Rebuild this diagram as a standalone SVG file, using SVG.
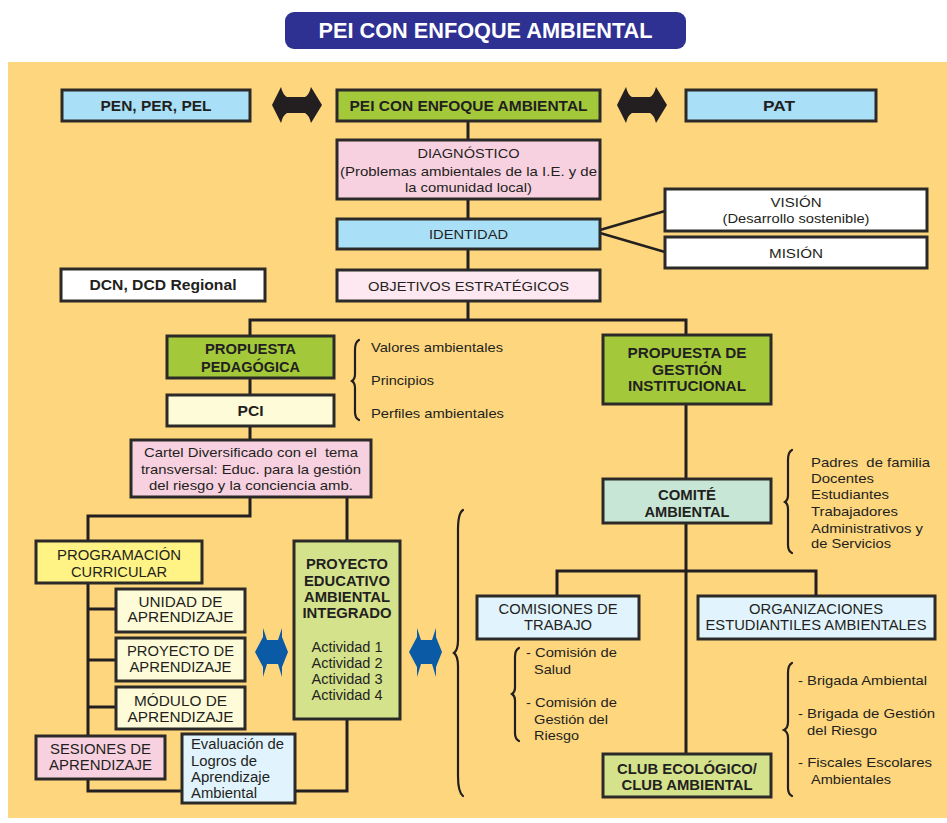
<svg xmlns="http://www.w3.org/2000/svg" width="947" height="823" viewBox="0 0 947 823">
<style>
text{font-family:"Liberation Sans",Arial,sans-serif;fill:#231f20}
.b{font-weight:bold}
.c{text-anchor:middle}
.n{font-size:14px}
.m{font-size:13.5px}
.pre{white-space:pre}
.box{stroke:#2b2a29;stroke-width:3}
.con{fill:none;stroke:#231f20;stroke-width:3}
.thin{stroke-width:2.4}
.br{fill:none;stroke:#231f20;stroke-width:2.2;stroke-linecap:round}
</style>
<rect x="0" y="0" width="947" height="823" fill="#ffffff"/>
<rect x="8" y="62" width="939" height="756" fill="#fed67e"/>
<g id="title">
<rect x="285" y="12" width="401" height="37" rx="9" fill="#2e3192"/>
<text x="485.5" y="38" class="b c" style="font-size:22px;fill:#ffffff" textLength="334" lengthAdjust="spacingAndGlyphs">PEI CON ENFOQUE AMBIENTAL</text>
</g>
<g id="connectors">
<path class="con" d="M468,121V140M468,199V219M468,249V270"/>
<path class="con thin" d="M600,230L665,211M600,233L665,252"/>
<path class="con" d="M468,301V320M250,336V320H686V335"/>
<path class="con" d="M250,378V395M250,426V440"/>
<path class="con" d="M250,497V516H88V541M347,497V541"/>
<path class="con" d="M88,583V736M88,609H116M88,660H116M88,707H116"/>
<path class="con" d="M88,779V791H182M295,791H347V719"/>
<path class="con" d="M686,404V479M686,523V754M557,596V571H816V596"/>
</g>
<g id="arrows">
<path fill="#231f20" d="M272,105L281,87Q283,95 287,97L305,97Q309,95 311,87L322,105L311,123Q309,115 305,113L287,113Q283,115 281,123Z"/>
<path fill="#231f20" d="M617,105L626,87Q628,95 632,97L650,97Q654,95 656,87L667,105L656,123Q654,115 650,113L632,113Q628,115 626,123Z"/>
<path fill="#0b5aa6" d="M255,652L263,637L263,628L267,640L278,640L282,628L282,637L288,652L282,667L282,677L278,664L267,664L263,677L263,667Z"/>
<path fill="#0b5aa6" d="M409,652L417,637L417,628L421,640L432,640L436,628L436,637L442,652L436,667L436,677L432,664L421,664L417,677L417,667Z"/>
</g>
<g id="braces">
<path class="br" d="M463,510Q458,513 458,530L458,640Q458,650 454,653Q458,656 458,666L458,776Q458,792 463,796"/>
<path class="br" d="M359,340Q355,342 355,350L355,374Q355,379 352,381Q355,383 355,388L355,412Q355,418 359,420"/>
<path class="br" d="M792,450Q788,452 788,460L788,495Q788,500 785,502Q788,504 788,509L788,545Q788,551 792,553"/>
<path class="br" d="M519,648Q515,650 515,657L515,688Q515,692 512,694Q515,696 515,700L515,733Q515,739 519,741"/>
<path class="br" d="M792,663Q788,665 788,673L788,722Q788,728 784,730Q788,732 788,738L788,788Q788,794 792,796"/>
</g>
<g id="pen"><rect class="box" x="62" y="90" width="188" height="31" fill="#a9dff7"/><text x="156" y="110.5" class="b c" style="font-size:15px" textLength="111" lengthAdjust="spacingAndGlyphs">PEN, PER, PEL</text></g>
<g id="pei"><rect class="box" x="337" y="90" width="263" height="31" fill="#a3c93a"/><text x="468.5" y="110.5" class="b c" style="font-size:15px" textLength="238" lengthAdjust="spacingAndGlyphs">PEI CON ENFOQUE AMBIENTAL</text></g>
<g id="pat"><rect class="box" x="686" y="90" width="190" height="31" fill="#a9dff7"/><text x="779" y="110.5" class="b c" style="font-size:15px" textLength="32" lengthAdjust="spacingAndGlyphs">PAT</text></g>
<g id="diagnostico"><rect class="box" x="337" y="140" width="263" height="59" fill="#f8d1e1"/>
<text x="468.5" y="158" class="m c" textLength="102" lengthAdjust="spacingAndGlyphs">DIAGNÓSTICO</text>
<text x="468.5" y="176" class="m c" textLength="257" lengthAdjust="spacingAndGlyphs">(Problemas ambientales de la I.E. y de</text>
<text x="468.5" y="192" class="m c" textLength="127" lengthAdjust="spacingAndGlyphs">la comunidad local)</text></g>
<g id="identidad"><rect class="box" x="337" y="219" width="263" height="30" fill="#a9dff7"/><text x="468.5" y="239" class="m c" textLength="79" lengthAdjust="spacingAndGlyphs">IDENTIDAD</text></g>
<g id="vision"><rect class="box" x="665" y="189" width="262" height="42" fill="#ffffff"/>
<text x="796" y="207" class="m c" textLength="51" lengthAdjust="spacingAndGlyphs">VISIÓN</text>
<text x="796" y="223" class="m c" textLength="147" lengthAdjust="spacingAndGlyphs">(Desarrollo sostenible)</text></g>
<g id="mision"><rect class="box" x="665" y="237" width="262" height="31" fill="#ffffff"/><text x="796" y="258" class="m c" textLength="54" lengthAdjust="spacingAndGlyphs">MISIÓN</text></g>
<g id="objetivos"><rect class="box" x="337" y="270" width="263" height="31" fill="#fde7f0"/><text x="468.5" y="291" class="m c" textLength="201" lengthAdjust="spacingAndGlyphs">OBJETIVOS ESTRATÉGICOS</text></g>
<g id="dcn"><rect class="box" x="61" y="269" width="204" height="32" fill="#ffffff"/><text x="163" y="289.5" class="b c" style="font-size:15px" textLength="147" lengthAdjust="spacingAndGlyphs">DCN, DCD Regional</text></g>
<g id="propuesta-pedagogica"><rect class="box" x="167" y="336" width="167" height="42" fill="#a3c93a"/>
<text x="250.5" y="354" class="b n c" textLength="91" lengthAdjust="spacingAndGlyphs">PROPUESTA</text>
<text x="250.5" y="372" class="b n c" textLength="99" lengthAdjust="spacingAndGlyphs">PEDAGÓGICA</text></g>
<g id="pedagogica-items">
<text x="371" y="352" class="m" textLength="132" lengthAdjust="spacingAndGlyphs">Valores ambientales</text>
<text x="371" y="385" class="m" textLength="63" lengthAdjust="spacingAndGlyphs">Principios</text>
<text x="371" y="418" class="m" textLength="133" lengthAdjust="spacingAndGlyphs">Perfiles ambientales</text></g>
<g id="pci"><rect class="box" x="167" y="395" width="167" height="31" fill="#fefbd8"/><text x="250.5" y="416" class="b n c" textLength="26" lengthAdjust="spacingAndGlyphs">PCI</text></g>
<g id="cartel"><rect class="box" x="131" y="440" width="240" height="57" fill="#f8d1e1"/>
<text x="251" y="457" class="m c pre" xml:space="preserve" textLength="214" lengthAdjust="spacingAndGlyphs">Cartel Diversificado con el  tema</text>
<text x="251" y="474" class="m c" textLength="220" lengthAdjust="spacingAndGlyphs">transversal: Educ. para la gestión</text>
<text x="251" y="490" class="m c" textLength="204" lengthAdjust="spacingAndGlyphs">del riesgo y la conciencia amb.</text></g>
<g id="programacion"><rect class="box" x="36" y="541" width="166" height="42" fill="#fff385"/>
<text x="119" y="560" class="n c" textLength="124" lengthAdjust="spacingAndGlyphs">PROGRAMACIÓN</text>
<text x="119" y="577" class="n c" textLength="96" lengthAdjust="spacingAndGlyphs">CURRICULAR</text></g>
<g id="unidad"><rect class="box" x="116" y="589" width="129" height="43" fill="#fefbd8"/>
<text x="180.5" y="607" class="n c" textLength="84" lengthAdjust="spacingAndGlyphs">UNIDAD DE</text>
<text x="180.5" y="622" class="n c" textLength="106" lengthAdjust="spacingAndGlyphs">APRENDIZAJE</text></g>
<g id="proyecto-aprendizaje"><rect class="box" x="116" y="638" width="129" height="43" fill="#fefbd8"/>
<text x="180.5" y="656" class="n c" textLength="107" lengthAdjust="spacingAndGlyphs">PROYECTO DE</text>
<text x="180.5" y="672" class="n c" textLength="102" lengthAdjust="spacingAndGlyphs">APRENDIZAJE</text></g>
<g id="modulo"><rect class="box" x="116" y="687" width="129" height="42" fill="#fefbd8"/>
<text x="180.5" y="706" class="n c" textLength="93" lengthAdjust="spacingAndGlyphs">MÓDULO DE</text>
<text x="180.5" y="722" class="n c" textLength="106" lengthAdjust="spacingAndGlyphs">APRENDIZAJE</text></g>
<g id="sesiones"><rect class="box" x="36" y="736" width="129" height="43" fill="#f8d1e1"/>
<text x="100.5" y="754" class="n c" textLength="101" lengthAdjust="spacingAndGlyphs">SESIONES DE</text>
<text x="100.5" y="770" class="n c" textLength="103" lengthAdjust="spacingAndGlyphs">APRENDIZAJE</text></g>
<g id="evaluacion"><rect class="box" x="182" y="734" width="113" height="69" fill="#e1f3fc"/>
<text x="191" y="749" class="n" textLength="93" lengthAdjust="spacingAndGlyphs">Evaluación de</text>
<text x="191" y="766" class="n" textLength="66" lengthAdjust="spacingAndGlyphs">Logros de</text>
<text x="191" y="782" class="n" textLength="79" lengthAdjust="spacingAndGlyphs">Aprendizaje</text>
<text x="191" y="798" class="n" textLength="66" lengthAdjust="spacingAndGlyphs">Ambiental</text></g>
<g id="proyecto-educativo"><rect class="box" x="294" y="541" width="106" height="178" fill="#d4e28c"/>
<text x="347" y="569" class="b n c" textLength="82" lengthAdjust="spacingAndGlyphs">PROYECTO</text>
<text x="347" y="586" class="b n c" textLength="86" lengthAdjust="spacingAndGlyphs">EDUCATIVO</text>
<text x="347" y="602" class="b n c" textLength="86" lengthAdjust="spacingAndGlyphs">AMBIENTAL</text>
<text x="347" y="618" class="b n c" textLength="89" lengthAdjust="spacingAndGlyphs">INTEGRADO</text>
<text x="347" y="652" class="n c" textLength="71" lengthAdjust="spacingAndGlyphs">Actividad 1</text>
<text x="347" y="668" class="n c" textLength="71" lengthAdjust="spacingAndGlyphs">Actividad 2</text>
<text x="347" y="684" class="n c" textLength="71" lengthAdjust="spacingAndGlyphs">Actividad 3</text>
<text x="347" y="700" class="n c" textLength="71" lengthAdjust="spacingAndGlyphs">Actividad 4</text></g>
<g id="propuesta-gestion"><rect class="box" x="603" y="335" width="168" height="69" fill="#a3c93a"/>
<text x="687" y="358" class="b n c" textLength="119" lengthAdjust="spacingAndGlyphs">PROPUESTA DE</text>
<text x="687" y="375" class="b n c" textLength="70" lengthAdjust="spacingAndGlyphs">GESTIÓN</text>
<text x="687" y="391" class="b n c" textLength="118" lengthAdjust="spacingAndGlyphs">INSTITUCIONAL</text></g>
<g id="comite"><rect class="box" x="603" y="479" width="168" height="44" fill="#c7e6d5"/>
<text x="687" y="500" class="b n c" textLength="58" lengthAdjust="spacingAndGlyphs">COMITÉ</text>
<text x="687" y="517" class="b n c" textLength="85" lengthAdjust="spacingAndGlyphs">AMBIENTAL</text></g>
<g id="comite-items">
<text x="811" y="467" class="m pre" xml:space="preserve" textLength="119" lengthAdjust="spacingAndGlyphs">Padres  de familia</text>
<text x="811" y="483" class="m" textLength="63" lengthAdjust="spacingAndGlyphs">Docentes</text>
<text x="811" y="499" class="m" textLength="78" lengthAdjust="spacingAndGlyphs">Estudiantes</text>
<text x="811" y="516" class="m" textLength="87" lengthAdjust="spacingAndGlyphs">Trabajadores</text>
<text x="811" y="533" class="m" textLength="112" lengthAdjust="spacingAndGlyphs">Administrativos y</text>
<text x="811" y="548" class="m" textLength="80" lengthAdjust="spacingAndGlyphs">de Servicios</text></g>
<g id="comisiones"><rect class="box" x="477" y="596" width="162" height="43" fill="#e1f3fc"/>
<text x="558" y="614" class="n c" textLength="119" lengthAdjust="spacingAndGlyphs">COMISIONES DE</text>
<text x="558" y="630" class="n c" textLength="68" lengthAdjust="spacingAndGlyphs">TRABAJO</text></g>
<g id="organizaciones"><rect class="box" x="698" y="596" width="237" height="43" fill="#e1f3fc"/>
<text x="816" y="614" class="n c" textLength="134" lengthAdjust="spacingAndGlyphs">ORGANIZACIONES</text>
<text x="816" y="630" class="n c" textLength="221" lengthAdjust="spacingAndGlyphs">ESTUDIANTILES AMBIENTALES</text></g>
<g id="comisiones-items">
<text x="526" y="657" class="m" textLength="91" lengthAdjust="spacingAndGlyphs">- Comisión de</text>
<text x="534" y="674" class="m" textLength="37" lengthAdjust="spacingAndGlyphs">Salud</text>
<text x="526" y="707" class="m" textLength="91" lengthAdjust="spacingAndGlyphs">- Comisión de</text>
<text x="534" y="724" class="m" textLength="74" lengthAdjust="spacingAndGlyphs">Gestión del</text>
<text x="534" y="740" class="m" textLength="45" lengthAdjust="spacingAndGlyphs">Riesgo</text></g>
<g id="club"><rect class="box" x="603" y="754" width="168" height="43" fill="#d4e28c"/>
<text x="687" y="774" class="b n c" textLength="140" lengthAdjust="spacingAndGlyphs">CLUB ECOLÓGICO/</text>
<text x="687" y="790" class="b n c" textLength="131" lengthAdjust="spacingAndGlyphs">CLUB AMBIENTAL</text></g>
<g id="organizaciones-items">
<text x="798" y="685" class="m" textLength="129" lengthAdjust="spacingAndGlyphs">- Brigada Ambiental</text>
<text x="798" y="718" class="m" textLength="137" lengthAdjust="spacingAndGlyphs">- Brigada de Gestión</text>
<text x="807" y="735" class="m" textLength="70" lengthAdjust="spacingAndGlyphs">del Riesgo</text>
<text x="798" y="767" class="m" textLength="134" lengthAdjust="spacingAndGlyphs">- Fiscales Escolares</text>
<text x="811" y="784" class="m" textLength="80" lengthAdjust="spacingAndGlyphs">Ambientales</text></g>
</svg>
